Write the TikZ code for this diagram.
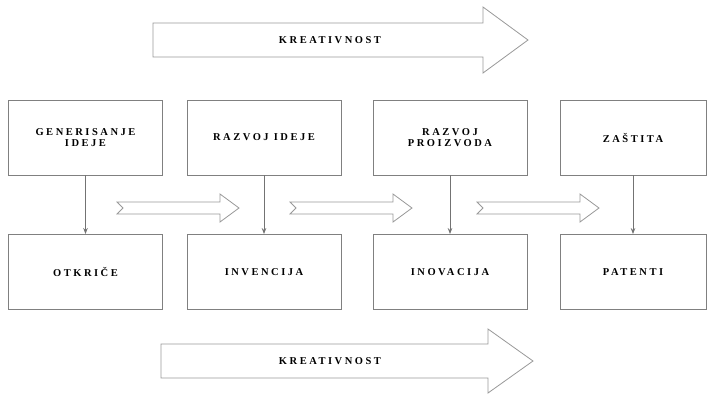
\documentclass[tikz,border=0pt]{standalone}
\usepackage{fontspec}
\newfontfamily\labelfont[LetterSpace=24]{Liberation Serif}
\usepackage{tikz}
\usetikzlibrary{arrows.meta}

\tikzset{
  box/.style={draw=black!50, line width=0.9pt, minimum width=154pt, minimum height=75pt,
    inner sep=0pt, align=center, font=\labelfont\bfseries\fontsize{10.5}{10.5}\selectfont},
  word/.style={inner sep=0pt, font=\labelfont\bfseries\fontsize{10.5}{10.5}\selectfont},
  hollow/.style={draw=black!40, line width=0.8pt, fill=white},
  link/.style={draw=black!55, line width=0.8pt, -{Stealth[length=6pt,width=4.5pt]}}
}

\begin{document}
\begin{tikzpicture}[x=1pt,y=-1pt]
  \useasboundingbox (0,0) rectangle (707,394);
  % big arrows
  \draw[hollow] (153,23) -- (483,23) -- (483,7) -- (528,40) -- (483,73) -- (483,57) -- (153,57) -- cycle;
  \draw[hollow] (161,344) -- (488,344) -- (488,329) -- (533,361) -- (488,393) -- (488,378) -- (161,378) -- cycle;
  \node[word] (krea) at (330,40) {KREATIVNOST};
  \node[word] (kreb) at (330,361) {KREATIVNOST};
  % top row
  \node[box] (gen) at (85.5,137.5) {GENERISANJE\\IDEJE};
  \node[box] (raz) at (264,137.5) {RAZVOJ IDEJE};
  \node[box] (pro) at (450,137.5) {RAZVOJ\\PROIZVODA};
  \node[box, minimum width=146pt] (zas) at (633,137.5) {ZAŠTITA};
  % bottom row
  \node[box] (otk) at (85.5,272) {OTKRIČE};
  \node[box] (inv) at (264,272) {INVENCIJA};
  \node[box] (ino) at (450,272) {INOVACIJA};
  \node[box, minimum width=146pt] (pat) at (633,272) {PATENTI};
  % links
  \draw[link] (gen) -- (otk);
  \draw[link] (raz) -- (inv);
  \draw[link] (pro) -- (ino);
  \draw[link] (zas) -- (pat);
  % small arrows
  \foreach \sx in {117,290,477}
    \draw[hollow] (\sx,202) -- ++(103,0) -- ++(0,-8) -- ++(19,14) -- ++(-19,14) -- ++(0,-8)
      -- ++(-103,0) -- ++(6,-6) -- cycle;
\end{tikzpicture}
\end{document}
